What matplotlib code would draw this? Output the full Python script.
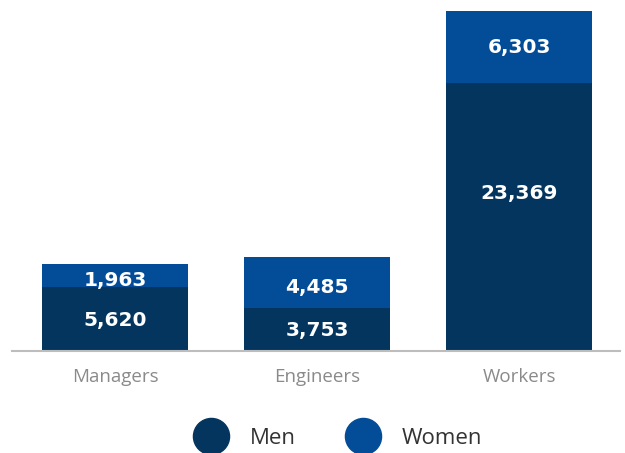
import matplotlib
matplotlib.use("Agg")
import matplotlib.pyplot as plt
from matplotlib.lines import Line2D

categories = ["Managers", "Engineers", "Workers"]
men = [5620, 3753, 23369]
women = [1963, 4485, 6303]

MEN_COLOR = "#03355f"
WOMEN_COLOR = "#034c98"

fig = plt.figure(figsize=(6.25, 4.53), dpi=100)
ax = fig.add_axes([12 / 625, 102 / 453, (620 - 12) / 625, 351 / 453])

x = list(range(len(categories)))
width = 0.723
ax.bar(x, men, width=width, color=MEN_COLOR, zorder=2)
ax.bar(x, women, width=width, bottom=men, color=WOMEN_COLOR, zorder=2)

top = max(m + w for m, w in zip(men, women))
ax.set_ylim(0, top * 1.032)
ax.set_xlim(-0.51, 2.5)

label_kw = dict(ha="center", va="center", color="white", fontsize=14.5,
                fontweight="bold", family=["DejaVu Sans"], zorder=3)
# vertical nudges (points) for labels
men_shift = [-1, -1, 17]
women_shift = [-3.5, -3.5, -0.5]
for i, (m, w) in enumerate(zip(men, women)):
    ax.annotate(f"{m:,}", (i, m / 2), xytext=(0, men_shift[i]),
                textcoords="offset points", **label_kw)
    ax.annotate(f"{w:,}", (i, m + w / 2), xytext=(0, women_shift[i]),
                textcoords="offset points", **label_kw)

for s in ["top", "right", "left"]:
    ax.spines[s].set_visible(False)
ax.spines["bottom"].set_color("#bdbdbd")
ax.spines["bottom"].set_linewidth(1.5)
ax.set_yticks([])
ax.set_xticks(x)
ax.set_xticklabels(categories, fontsize=13.5, color="#8a8a8a",
                   family=["Open Sans", "DejaVu Sans"])
ax.tick_params(axis="x", length=0, pad=12)

handles = [
    Line2D([], [], marker="o", linestyle="none", markersize=26,
           markerfacecolor=MEN_COLOR, markeredgecolor=MEN_COLOR, label="Men"),
    Line2D([], [], marker="o", linestyle="none", markersize=26,
           markerfacecolor=WOMEN_COLOR, markeredgecolor=WOMEN_COLOR, label="Women"),
]
fig.legend(handles=handles, loc="center", bbox_to_anchor=(0.537, 1 - 438 / 453),
           ncol=2, frameon=False, handletextpad=0.75, columnspacing=2.0,
           prop={"family": ["Open Sans", "DejaVu Sans"], "size": 16})
for t in fig.legends[0].get_texts():
    t.set_color("#333333")

fig.savefig("out.png", dpi=100)
